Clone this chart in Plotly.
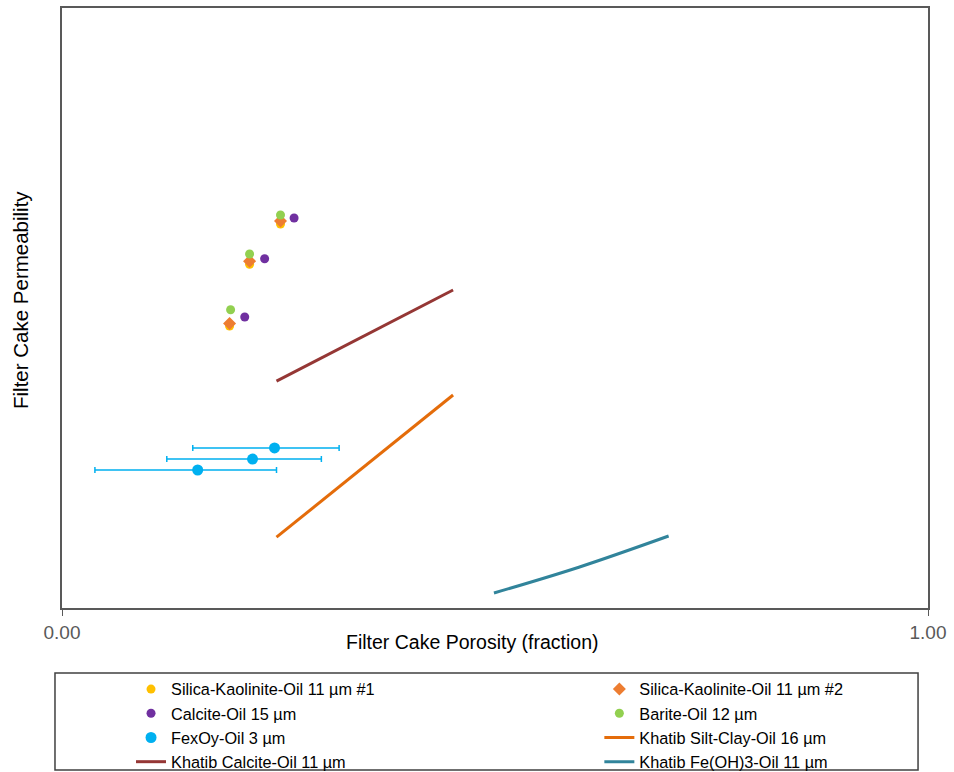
import plotly.graph_objects as go

# ---- data (porosity fraction, relative permeability position) ----
sk1_x = [0.2523, 0.2166, 0.1935]
sk1_y = [0.640, 0.573, 0.470]
sk2_x = [0.2523, 0.2166, 0.1935]
sk2_y = [0.645, 0.578, 0.474]
calcite_x = [0.268, 0.234, 0.211]
calcite_y = [0.650, 0.582, 0.485]
barite_x = [0.2523, 0.2166, 0.1947]
barite_y = [0.655, 0.590, 0.497]
fexoy_x = [0.2454, 0.2200, 0.1567]
fexoy_y = [0.2667, 0.2483, 0.2300]
fexoy_err_plus = [0.0746, 0.0795, 0.0910]
fexoy_err_minus = [0.0944, 0.0990, 0.1187]
silt_x = [0.2477, 0.4516]
silt_y = [0.118, 0.355]
kcal_x = [0.2477, 0.4516]
kcal_y = [0.378, 0.530]
kfe_x = [0.4988, 0.5968, 0.7005]
kfe_y = [0.025, 0.068, 0.120]
x_ticks = [0, 1]
x_ticklabels = ["0.00", "1.00"]

font = "Liberation Sans, Arial, sans-serif"
fig = go.Figure()

def pts(x, y, name, color, symbol, legend, size=9):
    fig.add_trace(go.Scatter(x=x, y=y, mode="markers", name=name, legend=legend,
                             legendgroup=name,
                             marker=dict(color=color, size=size, symbol=symbol)))

pts(sk1_x, sk1_y, "Silica-Kaolinite-Oil 11 µm #1", "#FFC000", "circle", "legend")
pts(sk2_x, sk2_y, "Silica-Kaolinite-Oil 11 µm #2", "#ED7D31", "diamond", "legend2", 10)
pts(calcite_x, calcite_y, "Calcite-Oil 15 µm", "#7030A0", "circle", "legend")
pts(barite_x, barite_y, "Barite-Oil 12 µm", "#92D050", "circle", "legend2")
fig.add_trace(go.Scatter(x=fexoy_x, y=fexoy_y, mode="markers", name="FexOy-Oil 3 µm",
                         legend="legend", legendgroup="fexoy",
                         marker=dict(color="#00B0F0", size=11),
                         error_x=dict(type="data", array=fexoy_err_plus,
                                      arrayminus=fexoy_err_minus, color="#00B0F0",
                                      thickness=1.5, width=3)))
fig.add_trace(go.Scatter(x=silt_x, y=silt_y, mode="lines", name="Khatib Silt-Clay-Oil 16 µm",
                         legend="legend2", legendgroup="silt",
                         line=dict(color="#E46C0A", width=3)))
fig.add_trace(go.Scatter(x=kcal_x, y=kcal_y, mode="lines", name="Khatib Calcite-Oil 11 µm",
                         legend="legend", legendgroup="kcal",
                         line=dict(color="#953735", width=3)))
fig.add_trace(go.Scatter(x=kfe_x, y=kfe_y, mode="lines", name="Khatib Fe(OH)3-Oil 11 µm",
                         legend="legend2", legendgroup="kfe", line_shape="spline",
                         line=dict(color="#31849B", width=3)))

legend_common = dict(orientation="v", xanchor="left", yanchor="top",
                     bgcolor="rgba(0,0,0,0)", borderwidth=0, tracegroupgap=0,
                     font=dict(family=font, size=16.3, color="#000000"))

fig.update_layout(
    width=954, height=772,
    margin=dict(l=62, r=26, t=8, b=164, autoexpand=False),
    paper_bgcolor="white", plot_bgcolor="white",
    font=dict(family=font, color="#595959"),
    xaxis=dict(range=[0, 1], tickvals=x_ticks, ticktext=x_ticklabels,
               showgrid=False, zeroline=False, showline=True, mirror=True,
               linecolor="#595959", linewidth=2, ticks="outside", ticklen=6,
               tickcolor="#595959", tickfont=dict(size=19, color="#595959")),
    yaxis=dict(range=[0, 1], showticklabels=False, showgrid=False, zeroline=False,
               showline=True, mirror=True, linecolor="#595959", linewidth=2, ticks=""),
    legend=dict(x=0.0797, y=-0.1067, **legend_common),
    legend2=dict(x=0.6205, y=-0.1067, **legend_common),
    showlegend=True,
    shapes=[dict(type="rect", xref="paper", yref="paper", x0=-0.0081, x1=0.9885,
                 y0=-0.27, y1=-0.1083, line=dict(color="#404040", width=1.5))],
    annotations=[
        dict(text="Filter Cake Porosity (fraction)", xref="paper", yref="paper",
             x=(472 - 62) / 866, y=(608 - 642) / 600, showarrow=False,
             xanchor="center", yanchor="middle",
             font=dict(family=font, size=19.5, color="#000000")),
        dict(text="Filter Cake Permeability", xref="paper", yref="paper",
             x=(20 - 62) / 866, y=(608 - 300) / 600, showarrow=False, textangle=-90,
             xanchor="center", yanchor="middle",
             font=dict(family=font, size=20.5, color="#000000")),
    ],
)

fig.write_html("out.html", config={"displayModeBar": False})

# remove the default page margin so the figure sits at the window origin
with open("out.html", "r", encoding="utf-8") as f:
    html = f.read()
html = html.replace("<head>", "<head><style>html,body{margin:0;padding:0;}</style>", 1)
with open("out.html", "w", encoding="utf-8") as f:
    f.write(html)
